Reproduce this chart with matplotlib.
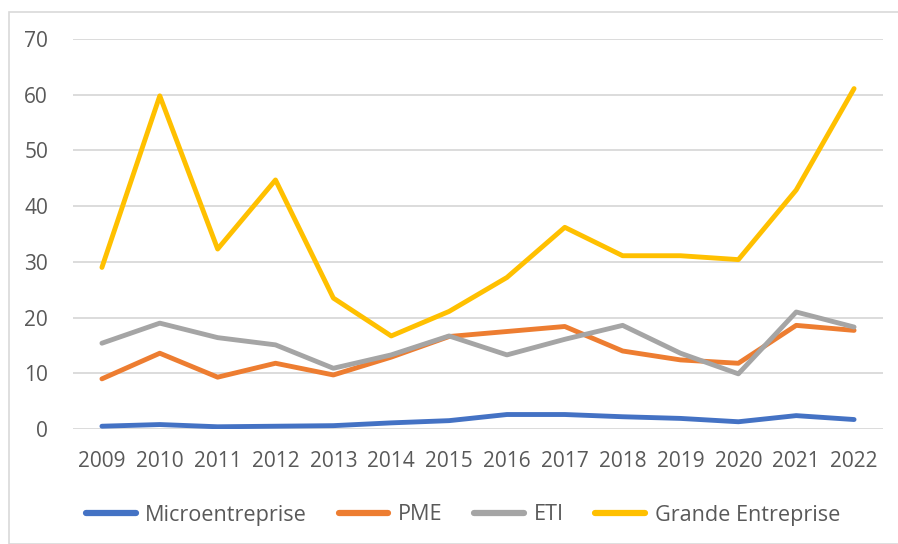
import matplotlib
matplotlib.use("Agg")
import matplotlib.pyplot as plt
from matplotlib.patches import Rectangle

years = ["2009", "2010", "2011", "2012", "2013", "2014", "2015",
         "2016", "2017", "2018", "2019", "2020", "2021", "2022"]
micro = [0.5, 0.8, 0.4, 0.5, 0.6, 1.1, 1.5, 2.6, 2.6, 2.2, 1.9, 1.3, 2.4, 1.7]
pme = [9.0, 13.6, 9.3, 11.8, 9.7, 12.9, 16.6, 17.5, 18.4, 14.0, 12.4, 11.8, 18.6, 17.7]
eti = [15.4, 19.0, 16.4, 15.1, 10.9, 13.3, 16.7, 13.3, 16.1, 18.6, 13.6, 9.9, 21.0, 18.3]
grande = [29.0, 59.8, 32.3, 44.7, 23.5, 16.7, 21.1, 27.2, 36.2, 31.1, 31.1, 30.4, 42.9, 61.1]
series_names = ["Microentreprise", "PME", "ETI", "Grande Entreprise"]
yticks = [0, 10, 20, 30, 40, 50, 60, 70]

colors = ["#4472C4", "#ED7D31", "#A5A5A5", "#FFC000"]
text_color = "#595959"
grid_color = "#D9D9D9"

plt.rcParams['font.family'] = ['Open Sans', 'DejaVu Sans']

W, H = 898, 544
fig = plt.figure(figsize=(W / 100, H / 100), dpi=100)
ax = fig.add_axes([73 / W, 1 - 429 / H, 810 / W, 390 / H])

x = list(range(len(years)))
for vals, name, c in zip([micro, pme, eti, grande], series_names, colors):
    ax.plot(x, vals, color=c, lw=3.5, label=name,
            solid_capstyle='round', solid_joinstyle='round')

ax.set_xlim(-0.5, len(years) - 0.5)
ax.set_ylim(0, 70)
ax.set_yticks(yticks)
ax.set_yticklabels([str(v) for v in yticks])
ax.set_xticks(x)
ax.set_xticklabels(years)
ax.yaxis.grid(True, color=grid_color, lw=1.3)
ax.set_axisbelow(True)
for s in ax.spines.values():
    s.set_visible(False)
ax.tick_params(axis='both', length=0, labelsize=15, colors=text_color)
ax.tick_params(axis='y', pad=18)
ax.tick_params(axis='x', pad=16)

leg = fig.legend(loc='center', bbox_to_anchor=(463 / W, 1 - 515 / H), ncol=4,
                 frameon=False, fontsize=15.6, handlelength=2.3,
                 handletextpad=0.45, columnspacing=1.45)
for t in leg.get_texts():
    t.set_color(text_color)
for h in leg.legend_handles:
    h.set_linewidth(4.5)

fig.patches.append(Rectangle((8.5 / W, 0), 1.5, 1 - 12 / H, transform=fig.transFigure,
                             fill=False, edgecolor=grid_color, lw=1.2))

fig.savefig("out.png", dpi=100)
